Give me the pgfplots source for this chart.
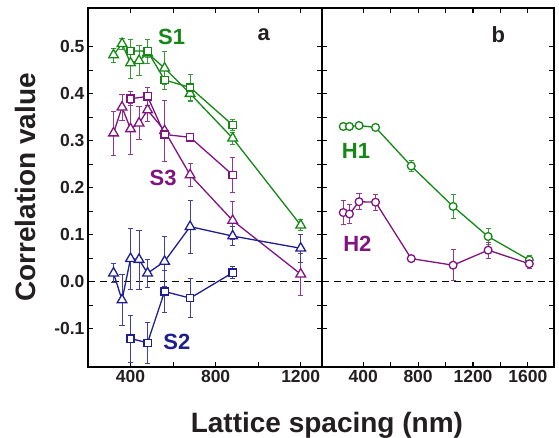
\documentclass[border=0pt]{standalone}
\usepackage{pgfplots}
\pgfplotsset{compat=1.18}
\usepackage{fontspec}
\setmainfont{Liberation Sans}
\definecolor{cg}{RGB}{20,135,20}
\definecolor{cp}{RGB}{128,20,128}
\definecolor{cb}{RGB}{30,30,145}
\definecolor{txt}{RGB}{35,31,32}

\tikzset{lab/.style={font=\fontsize{22}{22}\selectfont\bfseries, anchor=center}}
\pgfplotsset{
  panel/.style={
    scale only axis, height=359pt,
    ymin=-0.1815, ymax=0.582,
    ytick={-0.1,0,0.1,0.2,0.3,0.4,0.5},
    minor y tick num=1, minor x tick num=1,
    tick align=inside, major tick length=5pt, minor tick length=5pt,
    axis line style={line width=1.3pt},
    every tick/.style={line width=1.1pt, black},
    every minor tick/.style={line width=1.1pt, black},
    tick label style={font=\fontsize{17.5}{18}\selectfont\bfseries, text=txt},
    /pgf/number format/assume math mode=true,
    /pgf/number format/1000 sep={},
    clip=false,
  },
  ser/.style={#1, solid, line width=1.3pt, mark options={solid, fill=white, line width=1.3pt},
    error bars/y dir=both, error bars/y explicit,
    error bars/error bar style={solid, line width=0.8pt, #1!85!white},
    error bars/error mark options={solid, rotate=90, mark size=2.6pt, line width=0.8pt, #1!85!white}},
}

\begin{document}
\begin{tikzpicture}
\useasboundingbox (-88pt,-71pt) rectangle (471pt,367pt);
\begin{axis}[panel, name=L, width=234pt,
  xmin=200, xmax=1300, xtick={400,800,1200},
  yticklabels={-0.1,0.0,0.1,0.2,0.3,0.4,0.5},
  ylabel={Correlation value},
  ylabel style={font=\fontsize{28}{28}\selectfont\bfseries, text=txt, at={(axis description cs:-0.269,0.5)}, anchor=center},
  xlabel={Lattice spacing (nm)},
  xlabel style={font=\fontsize{28}{28}\selectfont\bfseries, text=txt, at={(axis description cs:1.021,-0.162)}, anchor=center},
]
\addplot[black, line width=1.6pt, dash pattern=on 7pt off 5pt] coordinates {(200,0) (1300,0)};
% S1 triangles
\addplot[ser=cg, mark=triangle*, mark size=5.6pt] coordinates {
 (320,0.482) +- (0,0.015) (360,0.506) +- (0,0.011) (400,0.465) +- (0,0.033)
 (440,0.470) +- (0,0.032) (480,0.486) +- (0,0.010) (560,0.454) +- (0,0.035)
 (680,0.400) +- (0,0.017) (880,0.305) +- (0,0.013) (1200,0.120) +- (0,0.012)};
% S1 squares
\addplot[ser=cg, mark=square*, mark size=3.6pt] coordinates {
 (400,0.491) +- (0,0.025) (480,0.490) +- (0,0.025) (560,0.429) +- (0,0.020)
 (680,0.413) +- (0,0.027) (880,0.333) +- (0,0.012)};
% S3 triangles
\addplot[ser=cp, mark=triangle*, mark size=5.6pt] coordinates {
 (320,0.316) +- (0,0.047) (360,0.371) +- (0,0.028) (400,0.325) +- (0,0.055)
 (440,0.337) +- (0,0.035) (480,0.365) +- (0,0.025) (560,0.321) +- (0,0.065)
 (680,0.227) +- (0,0.025) (880,0.130) +- (0,0.040) (1200,0.016) +- (0,0.045)};
% S3 squares
\addplot[ser=cp, mark=square*, mark size=3.6pt] coordinates {
 (400,0.389) +- (0,0.015) (480,0.394) +- (0,0.020) (560,0.313) +- (0,0.005)
 (680,0.307) +- (0,0.005) (880,0.227) +- (0,0.037)};
% S2 triangles
\addplot[ser=cb, mark=triangle*, mark size=5.6pt] coordinates {
 (320,0.018) +- (0,0.020) (360,-0.039) +- (0,0.055) (400,0.049) +- (0,0.065)
 (440,0.047) +- (0,0.063) (480,0.018) +- (0,0.030) (560,0.043) +- (0,0.053)
 (680,0.117) +- (0,0.056) (880,0.097) +- (0,0.020) (1200,0.071) +- (0,0.030)};
% S2 squares
\addplot[ser=cb, mark=square*, mark size=3.6pt] coordinates {
 (400,-0.121) +- (0,0.050) (480,-0.130) +- (0,0.043) (560,-0.021) +- (0,0.045)
 (680,-0.035) +- (0,0.042) (880,0.019) +- (0,0.013)};
\node[lab, text=cg] at (axis cs:593,0.521) {S1};
\node[lab, text=cp] at (axis cs:553,0.221) {S3};
\node[lab, text=cb] at (axis cs:618,-0.129) {S2};
\node[lab, text=txt] at (axis cs:1026,0.525) {a};
\end{axis}
\begin{axis}[panel, name=R, at={(234pt,0)}, width=232pt,
  xmin=100, xmax=1790, xtick={400,800,1200,1600},
  yticklabels={},
]
\addplot[black, line width=1.6pt, dash pattern=on 7pt off 5pt] coordinates {(100,0) (1790,0)};
% H1
\addplot[ser=cg, mark=*, mark size=3.9pt] coordinates {
 (255,0.330) +- (0,0.004) (300,0.330) +- (0,0.004) (370,0.332) +- (0,0.004)
 (490,0.328) +- (0,0.004) (750,0.246) +- (0,0.012) (1055,0.160) +- (0,0.025)
 (1310,0.096) +- (0,0.017) (1610,0.046) +- (0,0.010)};
% H2
\addplot[ser=cp, mark=*, mark size=3.9pt] coordinates {
 (255,0.147) +- (0,0.025) (300,0.144) +- (0,0.020) (370,0.170) +- (0,0.017)
 (490,0.169) +- (0,0.017) (750,0.049) +- (0,0.004) (1055,0.035) +- (0,0.033)
 (1310,0.067) +- (0,0.017) (1610,0.038) +- (0,0.010)};
\node[lab, text=cg] at (axis cs:348,0.277) {H1};
\node[lab, text=cp] at (axis cs:358,0.081) {H2};
\node[lab, text=txt] at (axis cs:1385,0.525) {b};
\end{axis}
\end{tikzpicture}
\end{document}
